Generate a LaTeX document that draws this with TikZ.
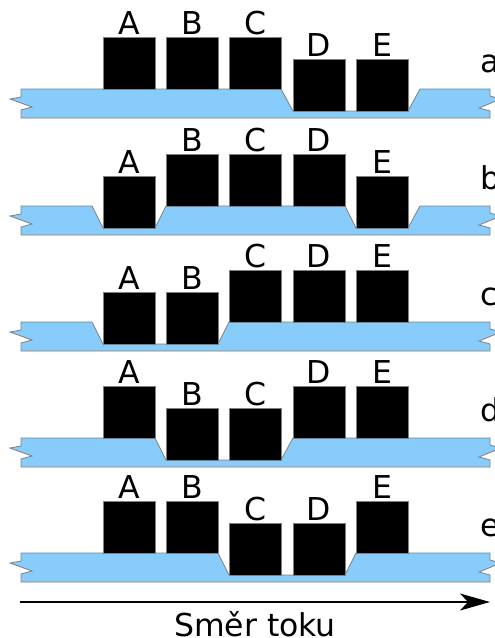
\documentclass[tikz,border=0pt]{standalone}
\usepackage{fontspec}
\setmainfont{DejaVu Sans}
\usepackage{xcolor}
\usetikzlibrary{arrows.meta}
\definecolor{water}{RGB}{135,204,250}

\begin{document}
\begin{tikzpicture}[x=1pt,y=-1pt,label distance=2pt,
    lett/.style={font=\fontsize{31.5}{36}\selectfont,inner sep=0pt},
    blk/.style={rectangle,draw=gray,fill=black,line width=0.6pt,minimum size=52pt,inner sep=0pt,
                label={[lett]above:#1}},
    band/.style={draw=gray,fill=water,line width=0.8pt}]
                \useasboundingbox (0,0) rectangle (495,638);

                % a
                \draw[band] (21,89) -- (281,89) -- (293,111) -- (408,111) -- (420,89) -- (490,89)
                -- (490,96) -- (501,99) -- (479,108) -- (490,111) -- (490,118)
                -- (21,118) -- (21,110) -- (32,107) -- (10,99) -- (21,97) -- cycle;
                \node (a1) at (129,63) [blk=A] {};
                \node (a2) at (192,63) [blk=B] {};
                \node (a3) at (255,63) [blk=C] {};
                \node (a4) at (319,85) [blk=D] {};
                \node (a5) at (382,85) [blk=E] {};
                \node (pa) at (480,72) [lett,anchor=base west] {a};

                % b
                \draw[band] (21,206) -- (92,206) -- (103,228) -- (155,228) -- (166,206) -- (345,206)
                -- (356,228) -- (408,228) -- (420,206) -- (490,206)
                -- (490,213) -- (501,216) -- (479,225) -- (490,228) -- (490,235)
                -- (21,235) -- (21,227) -- (32,224) -- (10,216) -- (21,214) -- cycle;
                \node (b1) at (129,202) [blk=A] {};
                \node (b2) at (192,180) [blk=B] {};
                \node (b3) at (255,180) [blk=C] {};
                \node (b4) at (319,180) [blk=D] {};
                \node (b5) at (382,202) [blk=E] {};
                \node (pb) at (480,189) [lett,anchor=base west] {b};

                % c
                \draw[band] (21,322) -- (92,322) -- (103,344) -- (218,344) -- (229,322) -- (490,322)
                -- (490,329) -- (501,332) -- (479,341) -- (490,344) -- (490,351)
                -- (21,351) -- (21,343) -- (32,340) -- (10,332) -- (21,330) -- cycle;
                \node (c1) at (129,318) [blk=A] {};
                \node (c2) at (192,318) [blk=B] {};
                \node (c3) at (255,296) [blk=C] {};
                \node (c4) at (319,296) [blk=D] {};
                \node (c5) at (382,296) [blk=E] {};
                \node (pc) at (480,305) [lett,anchor=base west] {c};

                % d
                \draw[band] (21,438) -- (155,438) -- (166,460) -- (281,460) -- (293,438) -- (490,438)
                -- (490,445) -- (501,448) -- (479,457) -- (490,460) -- (490,467)
                -- (21,467) -- (21,459) -- (32,456) -- (10,448) -- (21,446) -- cycle;
                \node (d1) at (129,412) [blk=A] {};
                \node (d2) at (192,434) [blk=B] {};
                \node (d3) at (255,434) [blk=C] {};
                \node (d4) at (319,412) [blk=D] {};
                \node (d5) at (382,412) [blk=E] {};
                \node (pd) at (480,421) [lett,anchor=base west] {d};

                % e
                \draw[band] (21,553) -- (218,553) -- (229,575) -- (345,575) -- (356,553) -- (490,553)
                -- (490,560) -- (501,563) -- (479,572) -- (490,575) -- (490,582)
                -- (21,582) -- (21,574) -- (32,571) -- (10,563) -- (21,561) -- cycle;
                \node (e1) at (129,527) [blk=A] {};
                \node (e2) at (192,527) [blk=B] {};
                \node (e3) at (255,549) [blk=C] {};
                \node (e4) at (319,549) [blk=D] {};
                \node (e5) at (382,527) [blk=E] {};
                \node (pe) at (480,536) [lett,anchor=base west] {e};

                % flow
                \coordinate (s) at (20,602);
                \coordinate (t) at (490,602);
                \draw[line width=1.3pt,-{Stealth[length=30pt,width=17pt,inset=8pt]}] (s) -- (t);
                \node (flow) at (255,636) [lett,anchor=base] {Směr toku};
\end{tikzpicture}
\end{document}
